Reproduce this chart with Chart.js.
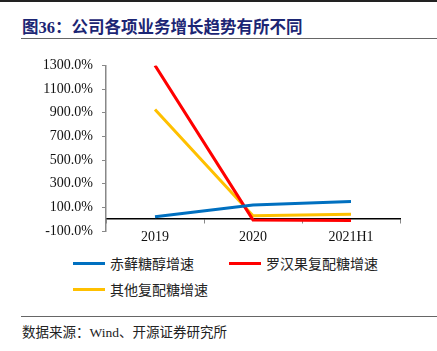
<!DOCTYPE html>
<html>
<head>
<meta charset="utf-8">
<script src="https://cdn.jsdelivr.net/npm/chart.js@4/dist/chart.umd.min.js"></script>
<style>
  html, body { margin: 0; padding: 0; background: #fff; }
  body { width: 437px; height: 351px; position: relative; overflow: hidden; font-family: "Liberation Serif", "Noto Sans CJK SC", serif; }
  .topline { position: absolute; left: 0; top: 0; width: 437px; height: 2px; background: #222; }
  .title { position: absolute; left: 22px; top: 14px; font-size: 16.5px; font-weight: bold; color: #1c2674; white-space: nowrap; }
  .rule { position: absolute; left: 21px; width: 416px; height: 1.5px; background: #666; }
  .box { position: absolute; left: 0; top: 48px; width: 437px; height: 204px; }
  #legend { position: absolute; left: 73px; top: 253px; display: grid; grid-template-columns: 156px auto; row-gap: 6px; }
  #legend .item { display: flex; align-items: center; height: 20px; font-family: "Noto Sans CJK SC", sans-serif; font-size: 14px; color: #222; }
  #legend .swatch { width: 32px; height: 3px; margin-right: 5px; }
  .source { position: absolute; left: 22px; top: 321px; font-size: 13.5px; color: #222; white-space: nowrap; }
</style>
</head>
<body>
<div class="topline"></div>
<div class="title">图36：公司各项业务增长趋势有所不同</div>
<div class="rule" style="top:37.5px"></div>
<div class="box"><canvas id="c"></canvas></div>
<div id="legend"></div>
<div class="rule" style="top:315.5px"></div>
<div class="source">数据来源：Wind、开源证券研究所</div>
<script>
const periods = ['2019', '2020', '2021H1'];
const seriesNames = ['赤藓糖醇增速', '罗汉果复配糖增速', '其他复配糖增速'];
const erythritol = [20, 119, 149];
const luohanguo = [1300, -6, -12];
const otherBlend = [928, 28, 42];
const colors = ['#0070c0', '#ff0000', '#ffc000'];

const datasets = [erythritol, luohanguo, otherBlend].map((data, i) => ({
  label: seriesNames[i],
  data,
  borderColor: colors[i],
  backgroundColor: colors[i],
  borderWidth: 3,
  pointRadius: 0,
  tension: 0,
  xAxisID: 'x',
}));

new Chart(document.getElementById('c'), {
  type: 'line',
  data: { labels: periods, datasets },
  options: {
    responsive: true,
    maintainAspectRatio: false,
    animation: false,
    layout: { padding: { top: 13, right: 37, bottom: 0, left: 0 } },
    plugins: { legend: { display: false }, tooltip: { enabled: false } },
    scales: {
      x: {
        type: 'category',
        offset: true,
        grid: { display: false, drawTicks: false },
        border: { display: false },
        ticks: { color: '#111', padding: -2, font: { family: 'Liberation Serif', size: 14 } },
        afterFit: (s) => { s.height = 21; },
      },
      x2: {
        type: 'category',
        labels: periods,
        position: { y: 0 },
        offset: true,
        grid: { offset: true, drawOnChartArea: false, tickLength: 4, color: '#888' },
        border: { color: '#000', width: 1.5 },
        ticks: { display: false },
      },
      y: {
        min: -100,
        max: 1300,
        ticks: {
          stepSize: 200,
          color: '#111',
          padding: 9,
          font: { family: 'Liberation Serif', size: 14 },
          callback: (v) => v.toFixed(1) + '%',
        },
        grid: { drawOnChartArea: false, tickLength: 4, color: '#888' },
        border: { color: '#888', width: 1.5 },
        afterFit: (s) => { s.width = 106; },
      },
    },
  },
});

const legend = document.getElementById('legend');
seriesNames.forEach((name, i) => {
  const el = document.createElement('div');
  el.className = 'item';
  el.innerHTML = `<span class="swatch" style="background:${colors[i]}"></span><span>${name}</span>`;
  legend.appendChild(el);
});
</script>
</body>
</html>
